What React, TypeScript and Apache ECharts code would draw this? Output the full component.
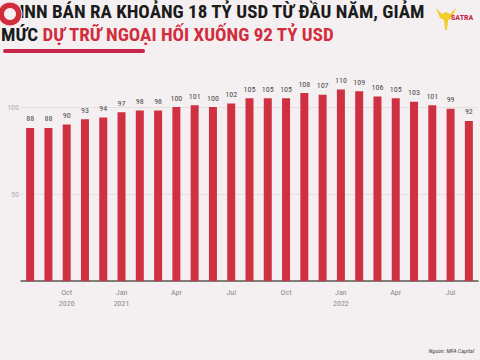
import React, { useEffect, useRef } from "react";
import * as echarts from "echarts";

const months = [
  "Aug 2020", "Sep 2020", "Oct 2020", "Nov 2020", "Dec 2020",
  "Jan 2021", "Feb 2021", "Mar 2021", "Apr 2021", "May 2021", "Jun 2021", "Jul 2021",
  "Aug 2021", "Sep 2021", "Oct 2021", "Nov 2021", "Dec 2021",
  "Jan 2022", "Feb 2022", "Mar 2022", "Apr 2022", "May 2022", "Jun 2022", "Jul 2022", "Aug 2022",
];
const reserves = [88, 88, 90, 93, 94, 97, 98, 98, 100, 101, 100, 102, 105, 105, 105, 108, 107, 110, 109, 106, 105, 103, 101, 99, 92];
const tickLabels: Record<string, string> = {
  "Oct 2020": "Oct\n2020",
  "Jan 2021": "Jan\n2021",
  "Apr 2021": "Apr",
  "Jul 2021": "Jul",
  "Oct 2021": "Oct",
  "Jan 2022": "Jan\n2022",
  "Apr 2022": "Apr",
  "Jul 2022": "Jul",
};
const yLabels = [50, 100];
const titleLine1 = "NHNN BÁN RA KHOẢNG 18 TỶ USD TỪ ĐẦU NĂM, GIẢM";
const titleLine2a = "MỨC ";
const titleLine2b = "DỰ TRỮ NGOẠI HỐI XUỐNG 92 TỶ USD";
const sourceText = "Nguồn: MFA Capital";

const FONT = "'Roboto Condensed', 'Liberation Sans Narrow', Roboto, sans-serif";

export default function App() {
  const ref = useRef<HTMLDivElement>(null);
  useEffect(() => {
    if (!ref.current) return;
    const chart = echarts.init(ref.current, null, { renderer: "svg" });
    const tickIdx = months.map((m, i) => (tickLabels[m] ? i : -1)).filter((i) => i >= 0);
    chart.setOption({
      animation: false,
      backgroundColor: "#f4f0f2",
      grid: { left: 21, right: 2, top: 63.5, bottom: 79 },
      xAxis: {
        type: "category",
        data: months,
        axisLine: { show: true, lineStyle: { color: "#5a5a5a", width: 1.5 } },
        axisTick: { show: false },
        axisLabel: {
          interval: (i: number) => tickIdx.includes(i),
          formatter: (v: string) => tickLabels[v] || "",
          color: "#8a8a8a",
          fontSize: 8,
          lineHeight: 11,
          margin: 6,
          fontFamily: FONT,
        },
        splitLine: { show: false },
      },
      yAxis: {
        type: "value",
        min: 0,
        max: 125,
        interval: 50,
        axisLine: { show: false },
        axisTick: { show: false },
        axisLabel: {
          formatter: (v: number) => (yLabels.includes(v) ? String(v) : ""),
          color: "#b0b0b0",
          fontSize: 8,
          margin: 2,
          fontFamily: FONT,
        },
        splitLine: { show: true, showMaxLine: false, lineStyle: { color: "#e4dfe1", width: 1 } },
      },
      series: [
        {
          type: "bar",
          data: reserves,
          barWidth: 8,
          itemStyle: { color: "#cf3042" },
          label: {
            show: true,
            position: "top",
            distance: 5,
            color: "#4a4a4a",
            fontSize: 8,
            fontFamily: FONT,
          },
        },
      ],
      graphic: [
        {
          type: "text",
          left: 1,
          top: 2,
          style: { text: titleLine1, fill: "#1b1b1b", font: `bold 19px ${FONT}` },
        },
        {
          type: "text",
          left: 1,
          top: 25,
          style: {
            text: `{a|${titleLine2a}}{b|${titleLine2b}}`,
            rich: {
              a: { fill: "#1b1b1b", font: `bold 19px ${FONT}` },
              b: { fill: "#d22d3d", font: `bold 19px ${FONT}` },
            },
          },
        },
        { type: "rect", shape: { x: 3, y: 49, width: 142, height: 4, r: 2 }, style: { fill: "#c8254a" } },
        { type: "circle", shape: { cx: 10, cy: 14, r: 12 }, style: { fill: "#d22d3d", stroke: "#f4f0f2", lineWidth: 1 } },
        { type: "circle", shape: { cx: 10, cy: 14, r: 6 }, style: { fill: "#f4f0f2" } },
        {
          type: "polygon",
          shape: { points: [[436, 8], [442, 14], [446, 12], [450, 14], [456, 8], [452, 18], [448, 20], [447, 30], [445, 30], [444, 20], [440, 18]] },
          style: { fill: "#f2cc2a" },
        },
        { type: "text", left: 451, top: 13, style: { text: "SATRA", fill: "#c8254a", font: `bold 8px ${FONT}` } },
        {
          type: "text",
          right: 6,
          top: 347,
          style: { text: sourceText, fill: "#444", font: `italic 6px ${FONT}` },
        },
      ],
    });
    return () => chart.dispose();
  }, []);
  return <div ref={ref} style={{ width: 480, height: 360, position: "absolute", left: 0, top: 0 }} />;
}
